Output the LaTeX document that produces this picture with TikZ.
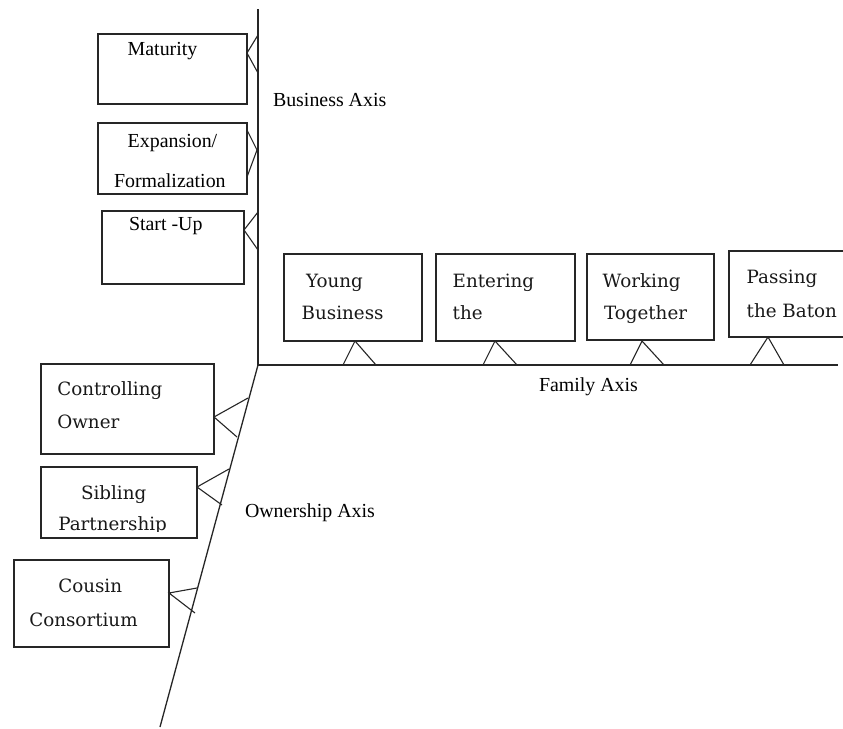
\documentclass[tikz,border=0pt]{standalone}
\usepackage{fontspec}
\setmainfont{Liberation Serif}
\newfontfamily\camb{DejaVu Serif}
\begin{document}
\begin{tikzpicture}[x=1pt,y=-1pt,
  ln/.style={line width=1.3pt,draw=black!85},
  box/.style={draw=black!85,line width=1.2pt,rectangle,inner sep=0pt,outer sep=0pt},
  tt/.style={anchor=base west,inner sep=0pt,outer sep=0pt,text=black,font=\fontsize{19.9}{23}\selectfont},
  ct/.style={anchor=base west,inner sep=0pt,outer sep=0pt,text=black!90,font=\camb\fontsize{18.3}{22}\selectfont}]
\clip (0,0) rectangle (843,728);
\fill[white] (0,0) rectangle (843,728);
% axes
\coordinate (top) at (258,9);
\coordinate (o) at (258,365);
\coordinate (fr) at (838,365);
\coordinate (ob) at (160,727);
\draw[ln] (top) -- (o) -- (fr);
\draw[ln] (o) -- (ob);
% business boxes
\node[box,minimum width=149pt,minimum height=70pt] (mat) at (172.5,69) {};
\node[box,minimum width=149pt,minimum height=71pt] (exp) at (172.5,158.5) {};
\node[box,minimum width=142pt,minimum height=73pt] (sta) at (173,247.5) {};
\node[tt] (matt) at (127.7,55) {Maturity};
\node[tt] (expt1) at (127.7,147.7) {Expansion/};
\node[tt] (expt2) at (114,187.7) {Formalization};
\node[tt] (stat) at (129,230) {Start -Up};
% family boxes
\node[box,minimum width=138pt,minimum height=87pt] (you) at (353,297.5) {};
\node[box,minimum width=139pt,minimum height=87pt] (ent) at (505.5,297.5) {};
\node[box,minimum width=127pt,minimum height=86pt] (wor) at (650.5,297) {};
\node[box,minimum width=130pt,minimum height=86pt] (pas) at (794,294) {};
\node[ct] (yout1) at (306,287) {Young};
\node[ct] (yout2) at (301.7,319.5) {Business};
\node[ct] (entt1) at (452.7,287) {Entering};
\node[ct] (entt2) at (452.7,319.5) {the};
\node[ct] (wort1) at (602.7,287) {Working};
\node[ct] (wort2) at (604,319.5) {Together};
\node[ct] (past1) at (746.7,283.5) {Passing};
\node[ct] (past2) at (746.7,317.3) {the Baton};
% ownership boxes
\node[box,minimum width=173pt,minimum height=90pt] (con) at (127.5,409) {};
\node[box,minimum width=156pt,minimum height=71pt] (sib) at (119,502.5) {};
\node[box,minimum width=155pt,minimum height=87pt] (cou) at (91.5,603.5) {};
\node[ct] (cont1) at (57.3,395) {Controlling};
\node[ct] (cont2) at (57.3,428.3) {Owner};
\node[ct] (sibt1) at (81,499.3) {Sibling};
\begin{scope}
\clip (41,467) rectangle (197,531);
\node[ct] (sibt2) at (58.3,530) {Partnership};
\end{scope}
\node[ct] (cout1) at (58.3,592.3) {Cousin};
\node[ct] (cout2) at (29.3,626) {Consortium};
% axis labels
\node[tt] (bax) at (273,106) {Business Axis};
\node[tt] (fax) at (539,391.7) {Family Axis};
\node[tt] (oax) at (245,517.7) {Ownership Axis};
% connectors (crow's feet)
\coordinate (m1) at (258,35); \coordinate (m2) at (247,53); \coordinate (m3) at (258,73);
\draw[ln,line width=1.1pt] (m1) -- (m2) -- (m3);
\coordinate (e1) at (247,130); \coordinate (e2) at (257,150); \coordinate (e3) at (247,177);
\draw[ln,line width=1.1pt] (e1) -- (e2) -- (e3);
\coordinate (s1) at (258,212); \coordinate (s2) at (244,230); \coordinate (s3) at (258,250);
\draw[ln,line width=1.1pt] (s1) -- (s2) -- (s3);
\coordinate (y1) at (343,365); \coordinate (y2) at (355,341); \coordinate (y3) at (376,365);
\draw[ln,line width=1.1pt] (y1) -- (y2) -- (y3);
\coordinate (n1) at (483,365); \coordinate (n2) at (495,341); \coordinate (n3) at (517,365);
\draw[ln,line width=1.1pt] (n1) -- (n2) -- (n3);
\coordinate (w1) at (630,365); \coordinate (w2) at (642,341); \coordinate (w3) at (664,365);
\draw[ln,line width=1.1pt] (w1) -- (w2) -- (w3);
\coordinate (p1) at (750,365); \coordinate (p2) at (768,337); \coordinate (p3) at (784,365);
\draw[ln,line width=1.1pt] (p1) -- (p2) -- (p3);
\coordinate (c1) at (248,398); \coordinate (c2) at (214,417); \coordinate (c3) at (237,437);
\draw[ln,line width=1.1pt] (c1) -- (c2) -- (c3);
\coordinate (b1) at (229,469); \coordinate (b2) at (197,487); \coordinate (b3) at (222,505);
\draw[ln,line width=1.1pt] (b1) -- (b2) -- (b3);
\coordinate (k1) at (197,588); \coordinate (k2) at (169,593); \coordinate (k3) at (195,613);
\draw[ln,line width=1.1pt] (k1) -- (k2) -- (k3);
\end{tikzpicture}
\end{document}
